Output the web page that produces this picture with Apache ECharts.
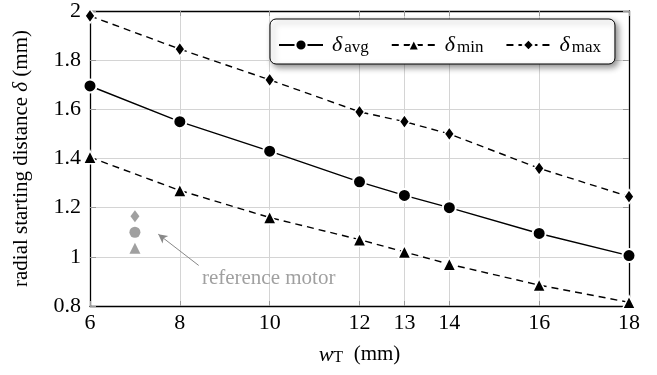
<!DOCTYPE html>
<html>
<head>
<meta charset="utf-8">
<script src="https://cdn.jsdelivr.net/npm/echarts@6/dist/echarts.min.js"></script>
<style>
  html, body { margin: 0; padding: 0; background: #fff; }
  #chart { width: 657px; height: 375px; }
</style>
</head>
<body>
<div id="chart"></div>
<script>
// Tooth width w_T (mm) and the radial starting distance δ (mm)
const widths = [6, 8, 10, 12, 13, 14, 16, 18];
const deltaAvg = [1.695, 1.55, 1.43, 1.305, 1.25, 1.20, 1.095, 1.005];
const deltaMin = [1.405, 1.27, 1.16, 1.07, 1.02, 0.97, 0.885, 0.815];
const deltaMax = [1.98, 1.845, 1.72, 1.59, 1.55, 1.50, 1.36, 1.245];

// Reference motor
const refWidth = 7;
const refAvg = 1.10;
const refMin = 1.035;
const refMax = 1.165;
const refLabel = 'reference motor';
const refLabelAt = [8.38, 0.913];
const refArrowFrom = [8.42, 0.965];
const refArrowTo = [7.52, 1.092];

const xTicks = [6, 8, 10, 12, 13, 14, 16, 18];

const FONT = '"Liberation Serif", "Times New Roman", serif';
const GRID_COLOR = '#d4d4d4';
const TICK_COLOR = '#9a9a9a';

const pairs = (xs, ys) => xs.map((x, i) => [x, ys[i]]);

const subRich = {
  d: { fontFamily: FONT, fontSize: 22, fontStyle: 'italic', color: '#000', lineHeight: 22 },
  s: { fontFamily: FONT, fontSize: 17, color: '#000', lineHeight: 16, padding: [12, 0, 0, 2], verticalAlign: 'bottom' }
};

const legendLabels = { avg: 'avg', min: 'min', max: 'max' };

const chart = echarts.init(document.getElementById('chart'), null, { renderer: 'canvas' });

const xAxisBase = {
  type: 'value', min: 6, max: 18,
  axisLine: { show: true, onZero: false, lineStyle: { color: '#000', width: 1.3 } },
  axisTick: { show: true, inside: true, length: 5, customValues: xTicks, lineStyle: { color: TICK_COLOR } },
  splitLine: { show: false },
  axisLabel: { show: false }
};
const yAxisBase = {
  type: 'value', min: 0.8, max: 2, interval: 0.2,
  axisLine: { show: true, onZero: false, lineStyle: { color: '#000', width: 1.3 } },
  axisTick: { show: true, inside: true, length: 6, lineStyle: { color: TICK_COLOR } },
  splitLine: { show: false },
  axisLabel: { show: false }
};

const option = {
  animation: false,
  backgroundColor: '#fff',
  textStyle: { fontFamily: FONT },
  grid: { left: 90, right: 28, top: 10, bottom: 69, containLabel: false },
  legend: {
    left: 270, top: 19,
    padding: [8, 14, 8, 8],
    itemWidth: 44, itemHeight: 14, itemGap: 22,
    backgroundColor: '#fff',
    borderColor: '#000', borderWidth: 1, borderRadius: 6,
    shadowBlur: 6, shadowOffsetX: 3, shadowOffsetY: 3, shadowColor: 'rgba(0,0,0,0.45)',
    data: ['avg', 'min', 'max'],
    formatter: name => '{d|δ}{s|' + legendLabels[name] + '}',
    textStyle: { rich: subRich, padding: [0, 0, 0, 4] }
  },
  xAxis: [
    Object.assign({}, xAxisBase, {
      position: 'bottom',
      splitLine: { show: true, customValues: xTicks, lineStyle: { color: GRID_COLOR, width: 1 } },
      axisLabel: { show: true, customValues: xTicks, margin: 6, fontFamily: FONT, fontSize: 22, color: '#000' },
      name: '{w|w}{t|T}{m|  (mm)}',
      nameLocation: 'middle', nameGap: 35,
      nameTextStyle: {
        rich: {
          w: { fontFamily: FONT, fontSize: 22, fontStyle: 'italic', color: '#000', lineHeight: 22 },
          t: { fontFamily: FONT, fontSize: 16, color: '#000', lineHeight: 15, padding: [11, 0, 0, 0], verticalAlign: 'bottom' },
          m: { fontFamily: FONT, fontSize: 21, color: '#000', lineHeight: 22 }
        }
      }
    }),
    Object.assign({}, xAxisBase, { position: 'top' })
  ],
  yAxis: [
    Object.assign({}, yAxisBase, {
      position: 'left',
      splitLine: { show: true, lineStyle: { color: GRID_COLOR, width: 1 } },
      axisLabel: { show: true, margin: 9, fontFamily: FONT, fontSize: 22, color: '#000' },
      name: '{a|radial starting distance }{d|δ}{a| (mm)}',
      nameLocation: 'middle', nameGap: 58,
      nameTextStyle: {
        rich: {
          a: { fontFamily: FONT, fontSize: 21, color: '#000' },
          d: { fontFamily: FONT, fontSize: 21, fontStyle: 'italic', color: '#000' }
        }
      }
    }),
    Object.assign({}, yAxisBase, { position: 'right' })
  ],
  series: [
    {
      name: 'avg', type: 'line', data: pairs(widths, deltaAvg),
      symbol: 'circle', symbolSize: 13, showAllSymbol: true,
      lineStyle: { color: '#000', width: 1.4, type: 'solid' },
      itemStyle: { color: '#000', borderColor: '#fff', borderWidth: 2 },
      z: 3
    },
    {
      name: 'min', type: 'line', data: pairs(widths, deltaMin),
      symbol: 'triangle', symbolSize: 13,
      lineStyle: { color: '#000', width: 1.4, type: [7, 5] },
      itemStyle: { color: '#000', borderColor: '#fff', borderWidth: 1.5 },
      z: 3
    },
    {
      name: 'max', type: 'line', data: pairs(widths, deltaMax),
      symbol: 'diamond', symbolSize: [10, 14],
      lineStyle: { color: '#000', width: 1.4, type: [7, 5] },
      itemStyle: { color: '#000', borderColor: '#fff', borderWidth: 1.5 },
      z: 3
    },
    {
      name: 'ref-avg', type: 'scatter', data: [[refWidth, refAvg]],
      symbol: 'circle', symbolSize: 11, itemStyle: { color: '#888' }, z: 3,
      markLine: {
        silent: true, symbol: ['none', 'arrow'], symbolSize: [7, 9],
        lineStyle: { color: '#888', width: 1, type: 'solid' },
        label: { show: false },
        data: [[{ coord: refArrowFrom }, { coord: refArrowTo }]]
      }
    },
    {
      name: 'ref-min', type: 'scatter', data: [[refWidth, refMin]],
      symbol: 'triangle', symbolSize: 11, itemStyle: { color: '#888' }, z: 3
    },
    {
      name: 'ref-max', type: 'scatter', data: [[refWidth, refMax]],
      symbol: 'diamond', symbolSize: [9, 12], itemStyle: { color: '#888' }, z: 3
    },
    {
      name: 'ref-label', type: 'scatter', data: [refLabelAt],
      symbolSize: 0, silent: true,
      label: {
        show: true, position: 'right', distance: 5,
        formatter: refLabel, fontFamily: FONT, fontSize: 21, color: '#888'
      }
    }
  ]
};

chart.setOption(option);
</script>
</body>
</html>
